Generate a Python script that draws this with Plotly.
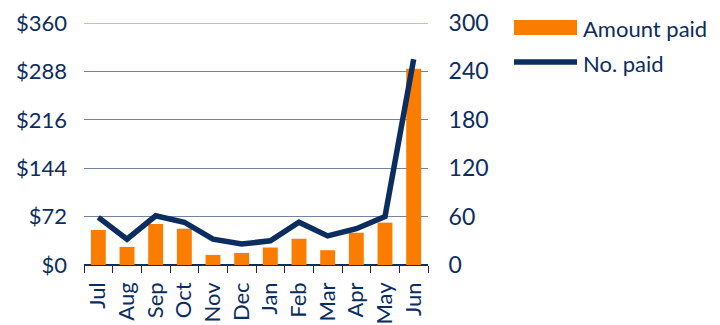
import plotly.graph_objects as go

months = ["Jul", "Aug", "Sep", "Oct", "Nov", "Dec", "Jan", "Feb", "Mar", "Apr", "May", "Jun"]
amount_paid = [52, 27, 61, 54, 15, 18, 26, 39, 22, 48, 63, 292]
number_paid = [59, 32, 61, 53, 32, 26, 30, 53, 36, 45, 60, 255]
amount_ticks = [0, 72, 144, 216, 288, 360]
count_ticks = [0, 60, 120, 180, 240, 300]

NAVY = "#0b2d5f"
ORANGE = "#fb7d00"
GRID = "#74849e"
FONT = "Lato, sans-serif"

# plot area in pixels (used to place the hand-drawn legend)
L, R, T, B = 84, 428, 23, 265
W, H = R - L, B - T


def px(x):
    return (x - L) / W


def py(y):
    return (B - y) / H


fig = go.Figure()
fig.add_trace(go.Bar(
    x=months, y=amount_paid, name="Amount paid",
    marker=dict(color=ORANGE, line=dict(width=0)),
    yaxis="y",
))
fig.add_trace(go.Scatter(
    x=months, y=number_paid, name="No. paid", mode="lines",
    line=dict(color=NAVY, width=5.5),
    yaxis="y2",
))

# gridline along the top of the value range
fig.add_shape(type="line", xref="x domain", yref="y",
              x0=0, x1=1, y0=amount_ticks[-1], y1=amount_ticks[-1],
              line=dict(color=GRID, width=1), layer="below")

# legend drawn by hand: wide orange swatch and a long navy line
fig.add_shape(type="rect", xref="paper", yref="paper",
              x0=px(514), x1=px(577), y0=py(35), y1=py(20),
              fillcolor=ORANGE, line=dict(width=0))
fig.add_shape(type="line", xref="paper", yref="paper",
              x0=px(514), x1=px(577), y0=py(62), y1=py(62),
              line=dict(color=NAVY, width=5.5))
fig.add_annotation(xref="paper", yref="paper", x=px(581), y=py(28),
                   text="Amount paid", showarrow=False,
                   xanchor="left", yanchor="middle",
                   font=dict(size=22, color=NAVY, family=FONT))
fig.add_annotation(xref="paper", yref="paper", x=px(581), y=py(63),
                   text="No. paid", showarrow=False,
                   xanchor="left", yanchor="middle",
                   font=dict(size=22, color=NAVY, family=FONT))

fig.update_layout(
    width=720, height=325,
    margin=dict(l=L, r=720 - R, t=T, b=325 - B, autoexpand=False),
    paper_bgcolor="white", plot_bgcolor="white",
    font=dict(family=FONT, color=NAVY, size=22),
    bargap=0.48,
    showlegend=False,
    xaxis=dict(
        type="category", automargin=False,
        tickangle=-90,
        ticks="outside", tickson="boundaries", ticklen=7, tickcolor=NAVY, tickwidth=1,
        showline=False,
        showgrid=False,
        ticklabelstandoff=12,
        tickfont=dict(size=22, color=NAVY),
    ),
    yaxis=dict(
        range=[0, 360], automargin=False,
        tickvals=amount_ticks, ticktext=[f"${v}" for v in amount_ticks],
        showgrid=True, gridcolor=GRID, gridwidth=1,
        zeroline=True, zerolinecolor=NAVY, zerolinewidth=1.5,
        showline=False, ticks="",
        ticklabelstandoff=16,
        tickfont=dict(size=22, color=NAVY),
    ),
    yaxis2=dict(
        range=[0, 300], automargin=False,
        tickvals=count_ticks, overlaying="y", side="right",
        showgrid=False, zeroline=False, showline=False,
        ticks="outside", ticklen=15, tickcolor="rgba(0,0,0,0)",
        tickfont=dict(size=23, color=NAVY),
    ),
)

fig.write_html("out.html")
